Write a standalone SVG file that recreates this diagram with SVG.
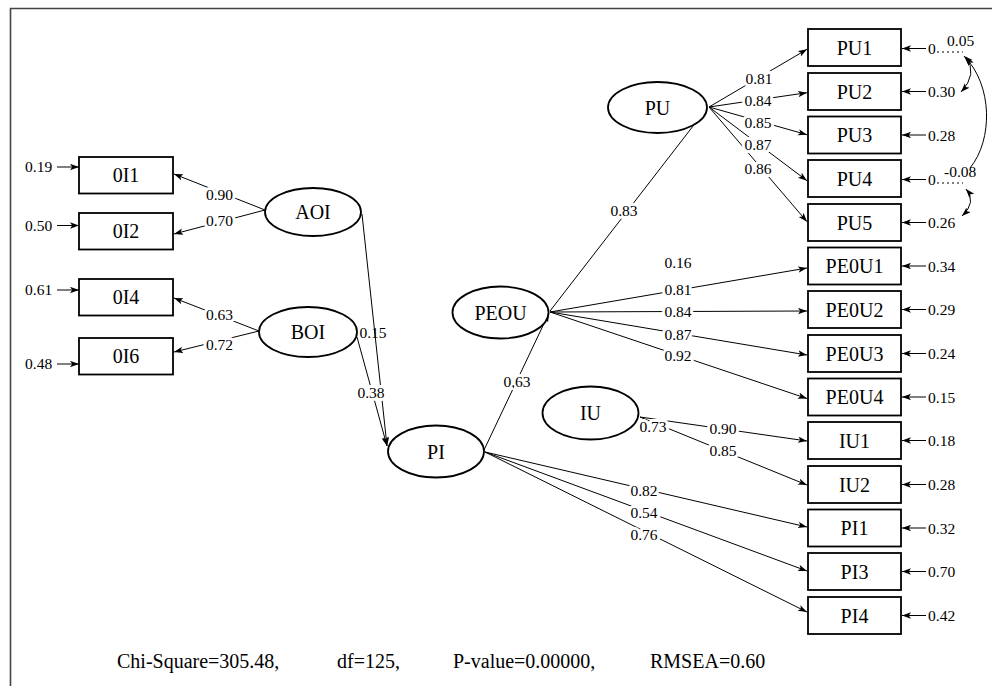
<svg xmlns="http://www.w3.org/2000/svg" width="992" height="686" viewBox="0 0 992 686">
<defs>
<marker id="ah" markerUnits="userSpaceOnUse" markerWidth="10" markerHeight="8" refX="9" refY="3.2" orient="auto-start-reverse">
<path d="M0,0 L9,3.2 L0,6.4 L2.2,3.2 z" fill="#000"/>
</marker>
<style>
.ln{stroke:#000;stroke-width:1;fill:none}
.ar{marker-end:url(#ah)}
.dbl{marker-start:url(#ah);marker-end:url(#ah)}
.box{fill:#fff;stroke:#000;stroke-width:1.8}
.ell{fill:#fff;stroke:#000;stroke-width:1.8}
.nl{font-family:"Liberation Serif","Times New Roman",serif;font-size:20px;text-anchor:middle;fill:#000}
.num{font-family:"Liberation Serif","Times New Roman",serif;font-size:15.5px;fill:#000}
.lab{text-anchor:middle;paint-order:stroke;stroke:#fff;stroke-width:6px;stroke-linejoin:round}
.fit{font-family:"Liberation Serif","Times New Roman",serif;font-size:20px;fill:#000}
</style>
</defs>
<rect width="992" height="686" fill="#fff"/>
<path d="M10.5,686 V8.5 H992" fill="none" stroke="#444" stroke-width="1.6"/>

<g id="connectors">
<path class="ln ar" d="M265,210 L174,174"/>
<path class="ln ar" d="M265,210 L174,234"/>
<path class="ln ar" d="M259,331 L174,298"/>
<path class="ln ar" d="M259,331 L174,352"/>
<path class="ln ar" d="M57,167 L79,167"/>
<path class="ln ar" d="M57,225.5 L79,225.5"/>
<path class="ln ar" d="M57,290 L79,290"/>
<path class="ln ar" d="M57,364 L79,364"/>
<path class="ln ar" d="M362,214 L387,446"/>
<path class="ln ar" d="M357,337 L387,446"/>
<path class="ln ar" d="M484,450 L549,313"/>
<path class="ln ar" d="M550,311 L707,108"/>
<path class="ln ar" d="M709,107 L807,49.3"/>
<path class="ln ar" d="M709,107 L807,92.7"/>
<path class="ln ar" d="M709,107 L807,134.7"/>
<path class="ln ar" d="M709,107 L807,180.7"/>
<path class="ln ar" d="M709,107 L807,221.7"/>
<path class="ln ar" d="M550,312 L807,268"/>
<path class="ln ar" d="M550,312 L807,311"/>
<path class="ln ar" d="M550,312 L807,355"/>
<path class="ln ar" d="M550,312 L807,398.5"/>
<path class="ln ar" d="M640,417 L807,441"/>
<path class="ln ar" d="M640,417 L807,485"/>
<path class="ln ar" d="M485,452 L807,527"/>
<path class="ln ar" d="M485,452 L807,571"/>
<path class="ln ar" d="M485,452 L807,612"/>
<path class="ln ar" d="M926,48.5 L902,48.5"/>
<path class="ln ar" d="M926,91.5 L902,91.5"/>
<path class="ln ar" d="M926,135 L902,135"/>
<path class="ln ar" d="M926,179.5 L902,179.5"/>
<path class="ln ar" d="M926,222.5 L902,222.5"/>
<path class="ln ar" d="M926,266 L902,266"/>
<path class="ln ar" d="M926,309.5 L902,309.5"/>
<path class="ln ar" d="M926,353.5 L902,353.5"/>
<path class="ln ar" d="M926,397 L902,397"/>
<path class="ln ar" d="M926,440.5 L902,440.5"/>
<path class="ln ar" d="M926,484.5 L902,484.5"/>
<path class="ln ar" d="M926,528 L902,528"/>
<path class="ln ar" d="M926,571.5 L902,571.5"/>
<path class="ln ar" d="M926,615.5 L902,615.5"/>
<path d="M937,52 H963" stroke="#000" stroke-width="1" stroke-dasharray="2,3"/>
<path d="M937,183 H963" stroke="#000" stroke-width="1" stroke-dasharray="2,3"/>
<path class="ln dbl" d="M966,57 Q978,74 961,92"/>
<path class="ln" style="marker-start:url(#ah)" d="M964,56 C993,85 993,140 970,168"/>
<path class="ln dbl" d="M966,189 Q977,202 962,216"/>
</g>

<g id="edge-labels" class="num">
<text class="lab" x="219.5" y="199.5">0.90</text>
<text class="lab" x="219.5" y="225.5">0.70</text>
<text class="lab" x="219.5" y="319.5">0.63</text>
<text class="lab" x="219.5" y="349.5">0.72</text>
<text x="373" y="337.5" text-anchor="middle">0.15</text>
<text class="lab" x="371" y="397.5">0.38</text>
<text class="lab" x="517" y="386.5">0.63</text>
<text class="lab" x="624" y="215.5">0.83</text>
<text class="lab" x="759" y="83.5">0.81</text>
<text class="lab" x="758" y="105.5">0.84</text>
<text class="lab" x="758" y="128">0.85</text>
<text class="lab" x="758" y="149.5">0.87</text>
<text class="lab" x="758" y="173.5">0.86</text>
<text x="678" y="267.5" text-anchor="middle">0.16</text>
<text class="lab" x="678" y="294.5">0.81</text>
<text class="lab" x="678" y="317">0.84</text>
<text class="lab" x="678" y="339.5">0.87</text>
<text class="lab" x="678" y="360.5">0.92</text>
<text class="lab" x="653" y="431.5">0.73</text>
<text class="lab" x="723" y="433.5">0.90</text>
<text class="lab" x="723" y="455.5">0.85</text>
<text class="lab" x="644" y="495.5">0.82</text>
<text class="lab" x="644" y="517.5">0.54</text>
<text class="lab" x="644" y="539.5">0.76</text>
</g>

<g id="error-labels" class="num">
<text x="25" y="172">0.19</text>
<text x="25" y="230.5">0.50</text>
<text x="25" y="295">0.61</text>
<text x="25" y="369">0.48</text>
<text x="928" y="54">0</text>
<text x="947" y="46">0.05</text>
<text x="928" y="97">0.30</text>
<text x="928" y="140.5">0.28</text>
<text x="928" y="185">0</text>
<text x="944" y="177">-0.08</text>
<text x="928" y="228">0.26</text>
<text x="928" y="271.5">0.34</text>
<text x="928" y="315">0.29</text>
<text x="928" y="359">0.24</text>
<text x="928" y="402.5">0.15</text>
<text x="928" y="446">0.18</text>
<text x="928" y="490">0.28</text>
<text x="928" y="533.5">0.32</text>
<text x="928" y="577">0.70</text>
<text x="928" y="621">0.42</text>
</g>

<g id="OI1"><rect class="box" x="79" y="157" width="94" height="36.5"/><text class="nl" x="126" y="182">0I1</text></g>
<g id="OI2"><rect class="box" x="79" y="213" width="94" height="36.5"/><text class="nl" x="126" y="238">0I2</text></g>
<g id="OI4"><rect class="box" x="79" y="279" width="94" height="36.5"/><text class="nl" x="126" y="304">0I4</text></g>
<g id="OI6"><rect class="box" x="79" y="338" width="94" height="36.5"/><text class="nl" x="126" y="363">0I6</text></g>

<g id="AOI"><ellipse class="ell" cx="313" cy="212" rx="48" ry="24"/><text class="nl" x="313" y="219">AOI</text></g>
<g id="BOI"><ellipse class="ell" cx="308" cy="332" rx="49" ry="25"/><text class="nl" x="308" y="339">BOI</text></g>
<g id="PI"><ellipse class="ell" cx="436" cy="451.5" rx="48" ry="26"/><text class="nl" x="436" y="458.5">PI</text></g>
<g id="PEOU"><ellipse class="ell" cx="500.5" cy="312.5" rx="48" ry="26"/><text class="nl" x="500.5" y="319.5">PEOU</text></g>
<g id="PU"><ellipse class="ell" cx="657.5" cy="107.5" rx="49.5" ry="25.5"/><text class="nl" x="657.5" y="114.5">PU</text></g>
<g id="IU"><ellipse class="ell" cx="590.5" cy="413" rx="48" ry="26.5"/><text class="nl" x="590.5" y="420">IU</text></g>

<g id="PU1"><rect class="box" x="808" y="29" width="93" height="37"/><text class="nl" x="854.5" y="54.5">PU1</text></g>
<g id="PU2"><rect class="box" x="808" y="73" width="93" height="37"/><text class="nl" x="854.5" y="98.5">PU2</text></g>
<g id="PU3"><rect class="box" x="808" y="116.5" width="93" height="37"/><text class="nl" x="854.5" y="142">PU3</text></g>
<g id="PU4"><rect class="box" x="808" y="160" width="93" height="37"/><text class="nl" x="854.5" y="185.5">PU4</text></g>
<g id="PU5"><rect class="box" x="808" y="204" width="93" height="37"/><text class="nl" x="854.5" y="229.5">PU5</text></g>
<g id="PE0U1"><rect class="box" x="808" y="247.5" width="93" height="37"/><text class="nl" x="854.5" y="273">PE0U1</text></g>
<g id="PE0U2"><rect class="box" x="808" y="291" width="93" height="37"/><text class="nl" x="854.5" y="316.5">PE0U2</text></g>
<g id="PE0U3"><rect class="box" x="808" y="335" width="93" height="37"/><text class="nl" x="854.5" y="360.5">PE0U3</text></g>
<g id="PE0U4"><rect class="box" x="808" y="378.5" width="93" height="37"/><text class="nl" x="854.5" y="404">PE0U4</text></g>
<g id="IU1"><rect class="box" x="808" y="422" width="93" height="37"/><text class="nl" x="854.5" y="447.5">IU1</text></g>
<g id="IU2"><rect class="box" x="808" y="466" width="93" height="37"/><text class="nl" x="854.5" y="491.5">IU2</text></g>
<g id="PI1"><rect class="box" x="808" y="509.5" width="93" height="37"/><text class="nl" x="854.5" y="535">PI1</text></g>
<g id="PI3"><rect class="box" x="808" y="553" width="93" height="37"/><text class="nl" x="854.5" y="578.5">PI3</text></g>
<g id="PI4"><rect class="box" x="808" y="597" width="93" height="37"/><text class="nl" x="854.5" y="622.5">PI4</text></g>

<g id="fit-indices" class="fit">
<text x="117" y="668">Chi-Square=305.48,</text>
<text x="337" y="668">df=125,</text>
<text x="453" y="668">P-value=0.00000,</text>
<text x="650" y="668">RMSEA=0.60</text>
</g>
</svg>
